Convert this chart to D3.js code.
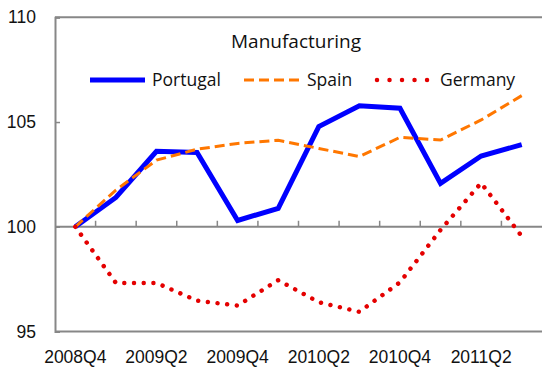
<!DOCTYPE html>
<html>
<head>
<meta charset="utf-8">
<script src="https://cdn.jsdelivr.net/npm/d3@7"></script>
<style>
  html, body { margin: 0; padding: 0; background: #fff; }
  svg { display: block; font-family: "Open Sans", "Noto Sans", sans-serif; }
</style>
</head>
<body>
<svg id="chart" width="542" height="372"></svg>
<script>
// Quarterly index, 2008Q4 = 100
const quarters = ["2008Q4", "2009Q1", "2009Q2", "2009Q3", "2009Q4", "2010Q1",
                  "2010Q2", "2010Q3", "2010Q4", "2011Q1", "2011Q2", "2011Q3"];
const portugal = [100, 101.4, 103.6, 103.55, 100.3, 100.88, 104.78, 105.78, 105.66, 102.07, 103.38, 103.92];
const spain    = [100, 101.75, 103.18, 103.7, 103.98, 104.13, 103.74, 103.35, 104.27, 104.14, 105.1, 106.26];
const germany  = [100, 97.32, 97.32, 96.47, 96.24, 97.45, 96.4, 95.94, 97.35, 99.85, 102.09, 99.55];
const yTicks   = [95, 100, 105, 110];
const labelQuarters = ["2008Q4", "2009Q2", "2009Q4", "2010Q2", "2010Q4", "2011Q2"];
const seriesNames = ["Portugal", "Spain", "Germany"];

const svg = d3.select("#chart");
const plotLeft = 55, plotRight = 542, plotTop = 17.3, plotBottom = 331.5;
const axisGray = "#878787";
const textColor = "#111";

const x = d3.scaleBand().domain(quarters).range([plotLeft, plotRight]).paddingInner(0).paddingOuter(0);
const cx = q => x(q) + x.bandwidth() / 2;
const y = d3.scaleLinear().domain([95, 110]).range([plotBottom, plotTop]);

// Frame: top and bottom border lines
svg.append("line").attr("x1", plotLeft).attr("x2", plotRight).attr("y1", y(110)).attr("y2", y(110))
  .attr("stroke", axisGray).attr("stroke-width", 2);
svg.append("line").attr("x1", plotLeft).attr("x2", plotRight).attr("y1", y(95)).attr("y2", y(95))
  .attr("stroke", axisGray).attr("stroke-width", 2);

// Y axis with inward ticks
const yAxis = svg.append("g").attr("transform", `translate(${plotLeft},0)`)
  .call(d3.axisLeft(y).tickValues(yTicks).tickSize(-5).tickPadding(19).tickFormat(d3.format("d")));
yAxis.select(".domain").attr("stroke", axisGray).attr("stroke-width", 2);
yAxis.selectAll(".tick line").attr("stroke", axisGray).attr("stroke-width", 1.5);
yAxis.selectAll(".tick text").attr("font-size", 17.5).attr("fill", textColor);

// Category axis crossing at 100, ticks between categories
const boundaries = quarters.slice(1).map(q => x(q));
const xAxisLine = svg.append("g").attr("transform", `translate(0,${y(100)})`);
xAxisLine.append("line").attr("x1", plotLeft).attr("x2", plotRight)
  .attr("stroke", axisGray).attr("stroke-width", 2);
xAxisLine.selectAll("line.tk").data(boundaries).join("line").attr("class", "tk")
  .attr("x1", d => d).attr("x2", d => d).attr("y1", 0).attr("y2", -6)
  .attr("stroke", axisGray).attr("stroke-width", 1.5);

// Category labels below the plot
const xLabels = svg.append("g").attr("transform", `translate(0,${plotBottom + 11})`)
  .call(d3.axisBottom(x).tickValues(labelQuarters).tickSize(0).tickPadding(8));
xLabels.select(".domain").remove();
xLabels.selectAll(".tick text").attr("font-size", 17.5).attr("fill", textColor);

// Series lines
const line = d3.line().x((d, i) => cx(quarters[i])).y(d => y(d));

svg.append("path").datum(portugal).attr("d", line)
  .attr("fill", "none").attr("stroke", "#0000ff").attr("stroke-width", 5)
  .attr("stroke-linejoin", "miter");

svg.append("path").datum(spain).attr("d", line)
  .attr("fill", "none").attr("stroke", "#ff7700").attr("stroke-width", 3)
  .attr("stroke-dasharray", "10 5");

svg.append("path").datum(germany).attr("d", line)
  .attr("fill", "none").attr("stroke", "#e40000").attr("stroke-width", 4.5)
  .attr("stroke-linecap", "round").attr("stroke-dasharray", "0.01 9.7");

// Title
svg.append("text").attr("x", 296).attr("y", 48).attr("text-anchor", "middle")
  .attr("font-size", 19).attr("fill", textColor).text("Manufacturing");

// Legend
const legendItems = [
  { name: seriesNames[0], x1: 90, x2: 145, tx: 152, stroke: "#0000ff", w: 5, dash: null, cap: "butt" },
  { name: seriesNames[1], x1: 244, x2: 301, tx: 307, stroke: "#ff7700", w: 3, dash: "10 5", cap: "butt" },
  { name: seriesNames[2], x1: 377, x2: 428, tx: 440, stroke: "#e40000", w: 4.5, dash: "0.01 12.5", cap: "round" }
];
const lg = svg.append("g");
legendItems.forEach(it => {
  lg.append("line").attr("x1", it.x1).attr("x2", it.x2).attr("y1", 80).attr("y2", 80)
    .attr("stroke", it.stroke).attr("stroke-width", it.w)
    .attr("stroke-dasharray", it.dash).attr("stroke-linecap", it.cap);
  lg.append("text").attr("x", it.tx).attr("y", 86).attr("font-size", 17.5).attr("fill", textColor).text(it.name);
});
</script>
</body>
</html>
